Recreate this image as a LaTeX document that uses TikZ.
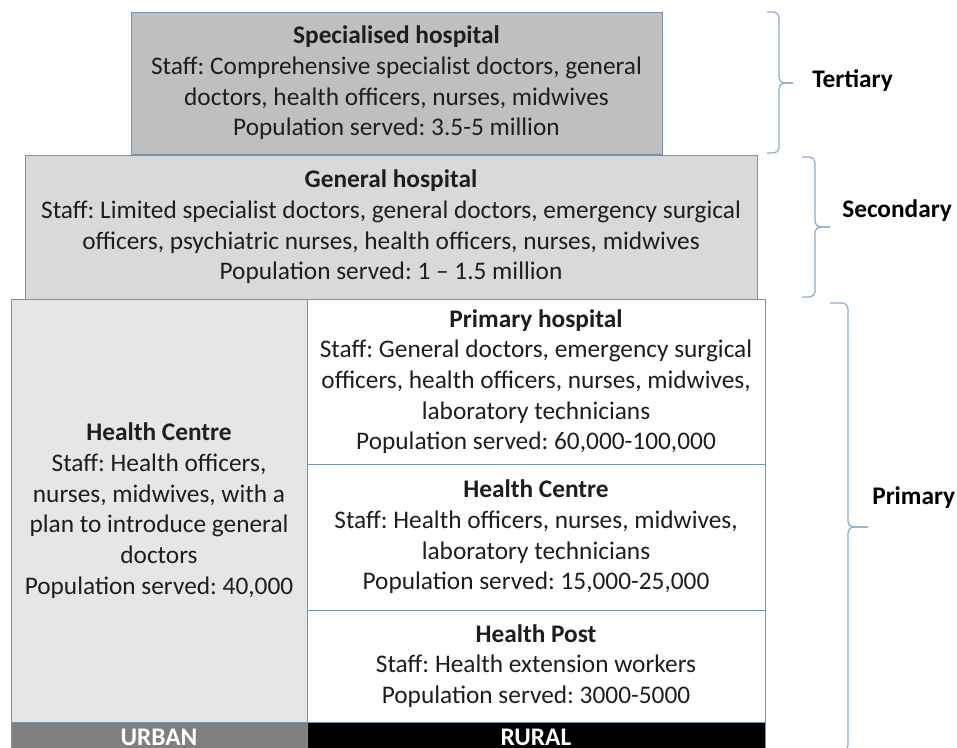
\documentclass[tikz,border=0pt]{standalone}
\usepackage{fontspec}
\setmainfont{Carlito}
\usetikzlibrary{positioning}
\definecolor{tertfill}{RGB}{191,191,191}
\definecolor{secfill}{RGB}{217,217,217}
\definecolor{urbanfill}{RGB}{231,230,230}
\definecolor{urbangrey}{RGB}{127,127,127}
\definecolor{boxline}{RGB}{120,145,175}
\definecolor{braceline}{RGB}{140,170,205}
\definecolor{bodytext}{RGB}{30,30,30}

\begin{document}
\frenchspacing
\begin{tikzpicture}[x=0.75pt, y=-0.75pt, every node/.style={font=\fontsize{19}{23}\selectfont, text=bodytext},
	box/.style={draw=boxline, line width=0.75pt, align=center, inner sep=0pt, outer sep=0pt},
	bar/.style={fill=#1, draw=boxline, line width=0.75pt, inner sep=0pt, outer sep=0pt, minimum height=19.5pt},
	bartext/.style={text=white, anchor=base, inner sep=0pt},
	bracket/.style={draw=braceline, line width=0.9pt, rounded corners=4pt},
	level/.style={anchor=west, inner sep=0pt, text=black}]
	\useasboundingbox (0,0) rectangle (957,747);
	% levels of care, top to bottom
	\node at (131,12) (spec) [box, fill=tertfill, anchor=north west, minimum width=398.25pt, minimum height=106.5pt] {\textbf{Specialised hospital}\\Staff: Comprehensive specialist doctors, general\\doctors, health officers, nurses, midwives\\Population served: 3.5-5 million};
	\node at (25,155) (genhosp) [box, fill=secfill, anchor=north west, minimum width=549pt, minimum height=108pt] {\textbf{General hospital}\\Staff: Limited specialist doctors, general doctors, emergency surgical\\officers, psychiatric nurses, health officers, nurses, midwives\\Population served: 1 -- 1.5 million};
	\node at (307,299) (primhosp) [box, fill=white, anchor=north west, minimum width=343.5pt, minimum height=123.75pt] {\textbf{Primary hospital}\\Staff: General doctors, emergency surgical\\officers, health officers, nurses, midwives,\\laboratory technicians\\Population served: 60,000-100,000};
	\node (ruralhc) [box, fill=white, below=0pt of primhosp, minimum width=343.5pt, minimum height=109.5pt] {\textbf{Health Centre}\\Staff: Health officers, nurses, midwives,\\laboratory technicians\\Population served: 15,000-25,000};
	\node (hpost) [box, fill=white, below=0pt of ruralhc, minimum width=343.5pt, minimum height=84pt] {\textbf{Health Post}\\Staff: Health extension workers\\Population served: 3000-5000};
	\node at (primhosp.north west) (urbanhc) [box, fill=urbanfill, anchor=north east, minimum width=222pt, minimum height=317.25pt] {\textbf{Health Centre}\\Staff: Health officers,\\nurses, midwives, with a\\plan to introduce general\\doctors\\Population served: 40,000};
	% urban / rural bars
	\node (urbanbar) [bar=urbangrey, below=0pt of urbanhc, minimum width=222pt] {};
	\node (ruralbar) [bar=black, below=0pt of hpost, minimum width=343.5pt] {};
	\node at ([yshift=2pt]urbanbar.south) (urbanlbl) [bartext] {\textbf{URBAN}};
	\node at ([yshift=2pt]ruralbar.south) (rurallbl) [bartext] {\textbf{RURAL}};
	% braces
	\coordinate (terttop) at (767,12); \coordinate (tertbot) at (767,153); \coordinate (terttip) at (793,83);
	\coordinate (sectop) at (802,157); \coordinate (secbot) at (802,297); \coordinate (sectip) at (830,227);
	\coordinate (primtop) at (830,303); \coordinate (primbot) at (830,751); \coordinate (primtip) at (868,527);
	\draw[bracket] (terttop) -| (terttip -| 779,0) -- (terttip); \draw[bracket] (tertbot) -| (terttip -| 779,0) -- (terttip);
	\draw[bracket] (sectop) -| (sectip -| 815,0) -- (sectip); \draw[bracket] (secbot) -| (sectip -| 815,0) -- (sectip);
	\draw[bracket] (primtop) -| (primtip -| 848,0) -- (primtip); \draw[bracket] (primbot) -| (primtip -| 848,0) -- (primtip);
	\node at (812,81) (tertiary) [level] {\textbf{Tertiary}};
	\node at (842,211) (secondary) [level] {\textbf{Secondary}};
	\node at (872,498) (primary) [level] {\textbf{Primary}};
\end{tikzpicture}
\end{document}
